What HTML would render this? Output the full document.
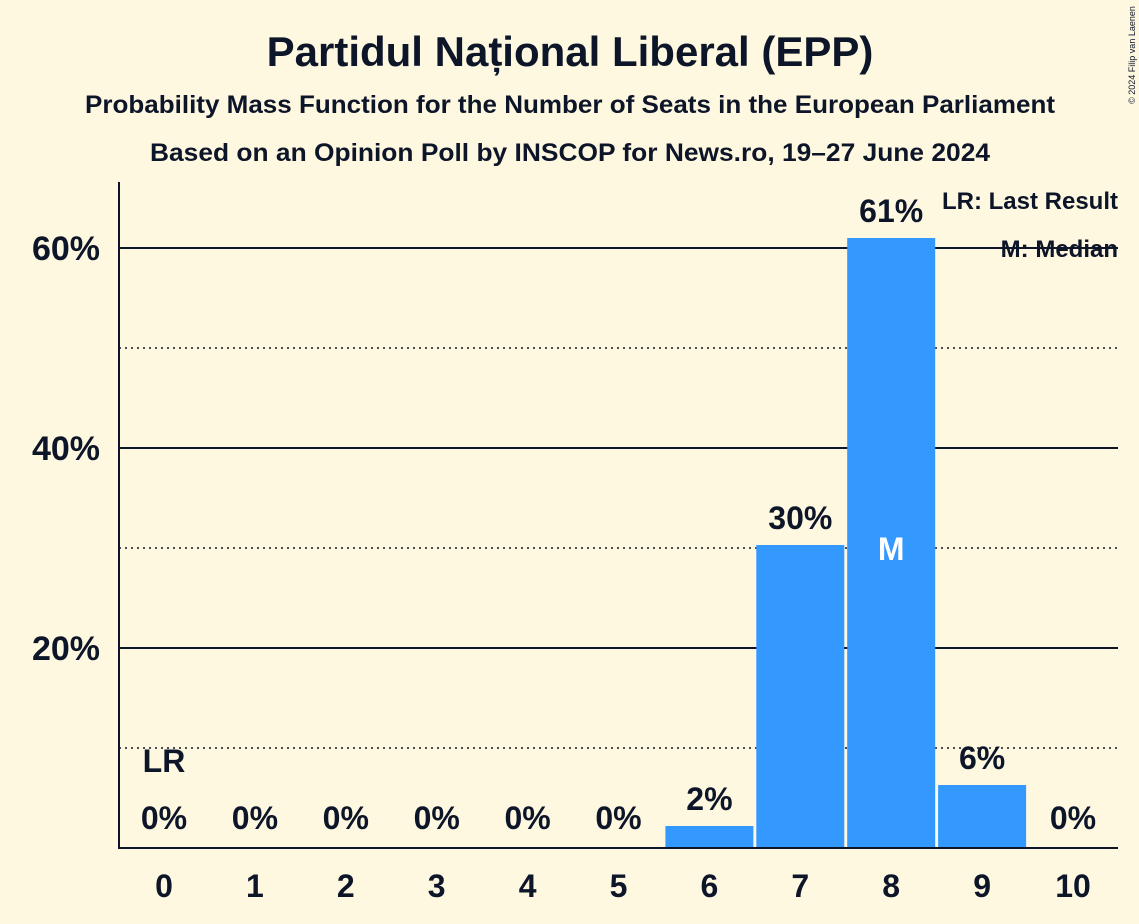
<!DOCTYPE html>
<html><head><meta charset="utf-8"><style>
body{margin:0;background:#fef8e1;}
svg{display:block;font-family:"Liberation Sans",sans-serif;font-weight:bold;}
</style></head><body>
<svg id="chart" width="1139" height="924" viewBox="0 0 1139 924">
<rect width="1139" height="924" fill="#fef8e1"/>
<text x="570" y="66" text-anchor="middle" font-size="42" fill="#0d1528">Partidul Național Liberal (EPP)</text>
<text x="570" y="113" text-anchor="middle" font-size="25" textLength="970" lengthAdjust="spacingAndGlyphs" fill="#0d1528">Probability Mass Function for the Number of Seats in the European Parliament</text>
<text x="570" y="161" text-anchor="middle" font-size="25" textLength="840" lengthAdjust="spacingAndGlyphs" fill="#0d1528">Based on an Opinion Poll by INSCOP for News.ro, 19–27 June 2024</text>
<text transform="translate(1135,55) rotate(-90)" text-anchor="middle" font-size="9" font-weight="normal" fill="#0d1528">© 2024 Filip van Laenen</text>
<g id="grid"></g>
<g id="bars"></g>
<g id="labels"></g>
<line x1="119" y1="182" x2="119" y2="849" stroke="#0d1528" stroke-width="2"/>
<line x1="118" y1="848" x2="1118" y2="848" stroke="#0d1528" stroke-width="2"/>
<text x="1118" y="209" text-anchor="end" font-size="24" fill="#0d1528">LR: Last Result</text>
<text x="1118" y="257" text-anchor="end" font-size="24" fill="#0d1528">M: Median</text>
</svg>
<script>
const categories=[0,1,2,3,4,5,6,7,8,9,10];
const values=[0,0,0,0,0,0,2.2,30.3,61,6.3,0];
const valueLabels=["0%","0%","0%","0%","0%","0%","2%","30%","61%","6%","0%"];
const yTicks=[20,40,60];
const yDotted=[10,30,50];
const yTickLabels=["20%","40%","60%"];
const lastResult=0;
const median=8;
const NS="http://www.w3.org/2000/svg";
const x=c=>164+c*90.9;
const y=v=>848-v*10;
const bw=88;
function mk(t,a,p){const e=document.createElementNS(NS,t);for(const k in a)e.setAttribute(k,a[k]);p.appendChild(e);return e;}
const grid=document.getElementById('grid'),bars=document.getElementById('bars'),labels=document.getElementById('labels');
yDotted.forEach(v=>{const l=mk('line',{x1:119,x2:1118,y1:y(v),y2:y(v),stroke:'#0d1528','stroke-width':1.5,'stroke-dasharray':'2,4'},grid);

});
yTicks.forEach((v,i)=>{const l=mk('line',{x1:119,x2:1118,y1:y(v),y2:y(v),stroke:'#0d1528','stroke-width':2},grid);


const t=mk('text',{x:100,y:y(v)+12,'text-anchor':'end','font-size':34,fill:'#0d1528'},labels);t.textContent=yTickLabels[i];

});
categories.forEach((c,i)=>{
if(values[i]>0){const r=mk('rect',{x:x(c)-bw/2,y:y(values[i]),width:bw,height:848-y(values[i]),fill:'#3399ff'},bars);

}
const t=mk('text',{x:x(c),y:y(values[i])-16,'text-anchor':'middle','font-size':32,fill:'#0d1528'},labels);t.textContent=valueLabels[i];
if(values[i]<1)t.setAttribute('y',829);


const xt=mk('text',{x:x(c),y:897,'text-anchor':'middle','font-size':32,fill:'#0d1528'},labels);xt.textContent=c;


if(c===median){const m=mk('text',{x:x(c),y:y(30)+12,'text-anchor':'middle','font-size':32,fill:'#ffffff'},labels);m.textContent='M';

}
if(c===lastResult){const m=mk('text',{x:x(c),y:772,'text-anchor':'middle','font-size':32,fill:'#0d1528'},labels);m.textContent='LR';

}
});
</script>
</body></html>
